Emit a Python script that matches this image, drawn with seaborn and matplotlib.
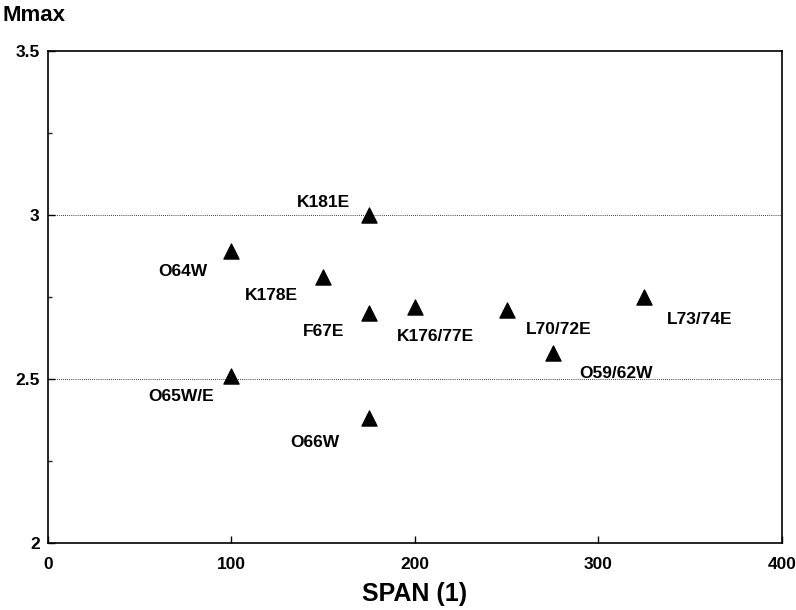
import pandas as pd
import numpy as np
import matplotlib.pyplot as plt
import seaborn as sns

labels = ['K181E', 'O64W', 'K178E', 'F67E', 'K176/77E', 'L70/72E',
          'L73/74E', 'O59/62W', 'O65W/E', 'O66W']
span = [175, 100, 150, 175, 200, 250, 325, 275, 100, 175]
mmax = [3.00, 2.89, 2.81, 2.70, 2.72, 2.71, 2.75, 2.58, 2.51, 2.38]
# label offsets in pixels (dx, dy)
offsets = [(-46, 13), (-49, -20), (-52, -18), (-46, -18), (20, -30),
           (52, -19), (55, -22), (63, -21), (-50, -21), (-54, -24)]

data = pd.DataFrame({'SPAN': span, 'Mmax': mmax, 'label': labels})

sns.set_style('white')
plt.rcParams['font.family'] = ['Liberation Sans', 'DejaVu Sans']
plt.rcParams['font.weight'] = 'bold'
plt.rcParams['text.color'] = 'black'
plt.rcParams['axes.labelcolor'] = 'black'

fig = plt.figure(figsize=(7.96, 6.10), dpi=100)
ax = fig.add_axes([0.0603, 0.1098, 0.9221, 0.8066])

for yv in [2.5, 3.0]:
    ax.axhline(yv, color='black', linestyle=(0, (1, 1.5)), linewidth=0.6, zorder=1)

sns.scatterplot(x='SPAN', y='Mmax', data=data, marker='^', s=120,
                color='black', edgecolor='black', ax=ax, zorder=3, legend=False)

for lab, x, y, (dx, dy) in zip(labels, span, mmax, offsets):
    ax.annotate(lab, (x, y), xytext=(dx, dy), textcoords='offset pixels',
                ha='center', va='center', fontsize=12.5, fontweight='bold',
                color='black')

ax.set_xlim(0, 400)
ax.set_ylim(2, 3.5)
ax.set_xticks([0, 100, 200, 300, 400])
ax.set_yticks([2, 2.5, 3, 3.5])
ax.set_yticks([2.25, 2.75, 3.25], minor=True)
ax.set_yticklabels(['2', '2.5', '3', '3.5'])
ax.tick_params(which='major', direction='in', length=5, width=1, labelsize=12.5,
               colors='black', pad=6, bottom=True, left=True)
ax.tick_params(which='major', axis='x', pad=10)
ax.tick_params(which='minor', axis='y', direction='in', length=3, width=1, left=True)
for lab in ax.get_xticklabels() + ax.get_yticklabels():
    lab.set_fontweight('bold')
for sp in ax.spines.values():
    sp.set_color('black')
    sp.set_linewidth(1.2)

ax.set_xlabel('SPAN (1)', fontsize=18, fontweight='bold', labelpad=7)
ax.set_ylabel('')
fig.text(0.003, 0.975, 'Mmax', fontsize=16, fontweight='bold', ha='left', va='center')

fig.savefig('out.png', dpi=100)
